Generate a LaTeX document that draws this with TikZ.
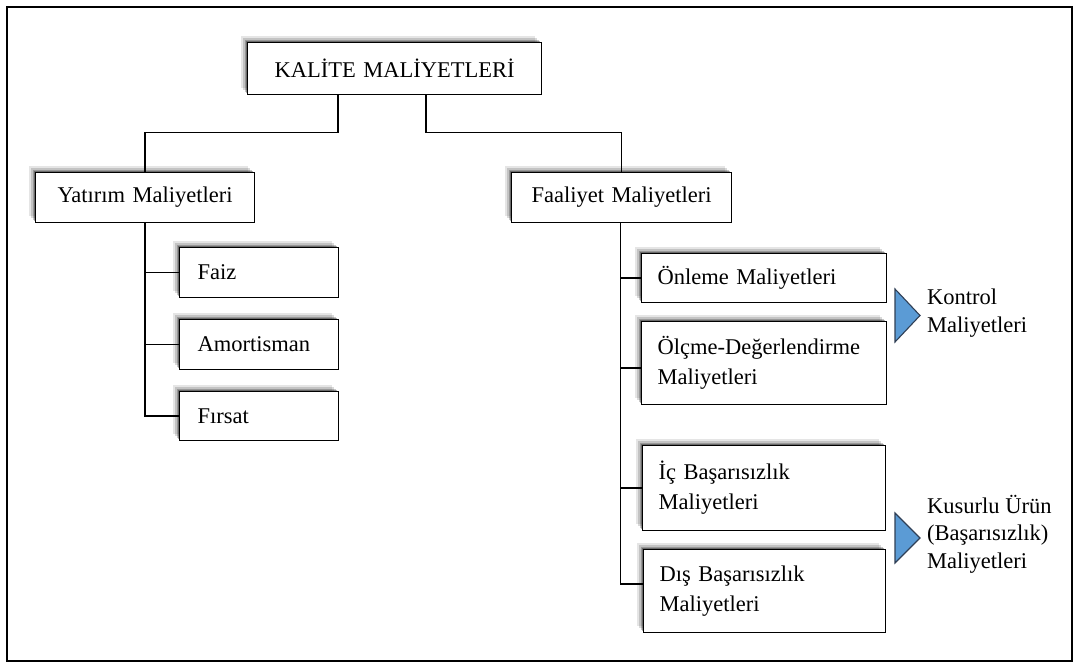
\documentclass[tikz,border=0pt]{standalone}
\usepackage{fontspec}
\setmainfont{Liberation Serif}
\usetikzlibrary{shadows}
\definecolor{triblue}{HTML}{5B9BD5}
\definecolor{tridark}{HTML}{2F3F55}
\tikzset{
  box/.style={draw=black, line width=1.2pt, fill=white, anchor=north west,
    inner xsep=16pt, inner ysep=0pt, align=left,
    font=\fontsize{22.5}{30}\selectfont,
    drop shadow={shadow xshift=-7pt, shadow yshift=7pt, opacity=0.10, fill=black},
    drop shadow={shadow xshift=-5pt, shadow yshift=5pt, opacity=0.15, fill=black},
    drop shadow={shadow xshift=-3pt, shadow yshift=3pt, opacity=0.22, fill=black},
    drop shadow={shadow xshift=-1.5pt, shadow yshift=1.5pt, opacity=0.3, fill=black}},
  cbox/.style={box, align=center},
  link/.style={draw=black, line width=1.3pt},
  tri/.style={fill=triblue, draw=tridark, line width=1.1pt, line join=miter},
  side/.style={anchor=west, align=left, inner sep=0pt, font=\fontsize{22.5}{27.5}\selectfont}
}
\begin{document}
\begin{tikzpicture}[x=1pt, y=-1pt]
\useasboundingbox (0,0) rectangle (1076,664);
\draw[line width=2.8pt, draw=black] (7,7) rectangle (1072,661);

% top
\node[cbox, minimum width=294pt, minimum height=52pt, text width=262pt, font=\fontsize{22.5}{27}\selectfont] (title) at (247,42) {KALİTE MALİYETLERİ};

% level 2
\node[cbox, minimum width=219pt, minimum height=50pt, text width=187pt] (yat) at (35,172) {Yatırım Maliyetleri};
\node[cbox, minimum width=220pt, minimum height=50pt, text width=188pt] (faal) at (511,172) {Faaliyet Maliyetleri};

% left children
\node[box, inner xsep=18pt, minimum width=159pt, minimum height=50pt, text width=123pt] (faiz) at (179,247) {Faiz};
\node[box, inner xsep=18pt, minimum width=159pt, minimum height=50pt, text width=123pt] (amort) at (179,319) {Amortisman};
\node[box, inner xsep=18pt, minimum width=159pt, minimum height=49pt, text width=123pt] (firsat) at (179,391) {Fırsat};

% right children
\node[box, minimum width=245pt, minimum height=49pt, text width=213pt] (onleme) at (641,253) {Önleme Maliyetleri};
\node[box, minimum width=245pt, minimum height=83pt, text width=213pt] (olcme) at (641,321) {Ölçme-Değerlendirme\\Maliyetleri};
\node[box, minimum width=243pt, minimum height=85pt, text width=211pt] (ic) at (642,445) {İç Başarısızlık\\Maliyetleri};
\node[box, minimum width=242pt, minimum height=83pt, text width=210pt] (dis) at (643,549) {Dış Başarısızlık\\Maliyetleri};

% connectors
\draw[link] ([xshift=-56.5pt]title.south) -- ++(0,37) -| (yat.north);
\draw[link] ([xshift=31.5pt]title.south) -- ++(0,37) -| (faal.north);

\draw[link] (yat.south) |- (faiz.west);
\draw[link] (yat.south) |- (amort.west);
\draw[link] (yat.south) |- (firsat.west);

\coordinate (olcmein) at ([yshift=-5pt]olcme.west);
\coordinate (disin) at ([yshift=7pt]dis.west);
\draw[link] ([xshift=-1pt]faal.south) |- (onleme.west);
\draw[link] ([xshift=-1pt]faal.south) |- (olcmein);
\draw[link] ([xshift=-1pt]faal.south) |- (ic.west);
\draw[link] ([xshift=-1pt]faal.south) |- (disin);

% side markers
\draw[tri] (895,289) -- (920,315.5) -- (895,342) -- cycle;
\node[side] (kontrol) at (927,313) {Kontrol\\Maliyetleri};
\draw[tri] (895,513) -- (920,538) -- (895,563) -- cycle;
\node[side] (kusurlu) at (927,534) {Kusurlu Ürün\\(Başarısızlık)\\Maliyetleri};
\end{tikzpicture}
\end{document}
